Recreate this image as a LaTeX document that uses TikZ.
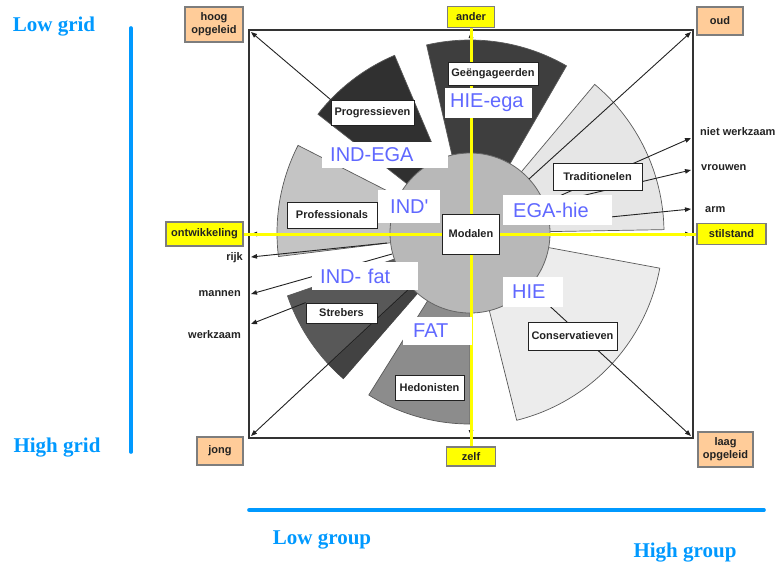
\documentclass[tikz,border=0pt]{standalone}
\usepackage{fontspec}
\setmainfont{Liberation Sans}
\newfontfamily\axisfont{Liberation Serif}
\newfontfamily\cultfont{Liberation Sans}
\usetikzlibrary{arrows.meta}

\definecolor{axisblue}{RGB}{0,153,255}
\definecolor{lblblue}{RGB}{96,104,255}
\definecolor{peach}{RGB}{255,204,153}
\definecolor{signyellow}{RGB}{255,255,0}
\definecolor{inkgray}{RGB}{34,34,34}
\definecolor{edgegray}{RGB}{125,125,125}
\definecolor{fillEng}{RGB}{62,62,62}
\definecolor{fillProg}{RGB}{48,48,48}
\definecolor{fillProf}{RGB}{196,196,196}
\definecolor{fillStreb}{RGB}{88,88,88}
\definecolor{fillStrebDark}{RGB}{66,66,66}
\definecolor{fillHed}{RGB}{140,140,140}
\definecolor{fillCons}{RGB}{236,236,236}
\definecolor{fillTrad}{RGB}{230,230,230}
\definecolor{fillMod}{RGB}{184,184,184}

\pgfdeclarelayer{sectors}
\pgfdeclarelayer{links}
\pgfsetlayers{sectors,links,main}

\tikzset{
  tag/.style={draw=inkgray, line width=0.8pt, fill=white, text=inkgray,
    font=\bfseries\fontsize{11}{12}\selectfont, inner sep=0pt},
  pole/.style={draw=edgegray, line width=1.3pt, text=inkgray,
    font=\bfseries\fontsize{11}{13}\selectfont, inner sep=0pt, align=center},
  peachpole/.style={pole, fill=peach},
  yellowpole/.style={pole, fill=signyellow},
  sidetext/.style={text=inkgray, font=\bfseries\fontsize{11}{12}\selectfont, inner sep=0pt},
  culture/.style={fill=white, text=lblblue, font=\cultfont\fontsize{20}{22}\selectfont,
    inner ysep=0pt, align=left, anchor=west},
  ptr/.style={draw=inkgray, line width=0.9pt, -{Triangle[length=6pt,width=4.5pt]}},
  yaxis/.style={draw=signyellow, line width=3pt},
  sector/.style={draw=black!65, line width=0.7pt},
  axisbar/.style={draw=axisblue, line width=3.6pt, line cap=round},
  axislabel/.style={text=axisblue, font=\axisfont\bfseries\fontsize{21}{23}\selectfont, inner sep=0pt},
}

\begin{document}
\begin{tikzpicture}[x=1pt,y=-1pt]
\useasboundingbox (0,0) rectangle (778,566);
\coordinate (C) at (470,233);

% frame, sectors and the central disc
\begin{pgfonlayer}{sectors}
  \draw[line width=1.2pt, draw=black!80] (249,30) rectangle (693,438);
  \filldraw[sector, fill=fillEng]   (C) -- ++(60:193pt)  arc[start angle=60,  end angle=103, radius=193pt] -- cycle;
  \filldraw[sector, fill=fillProg]  (C) -- ++(113:193pt) arc[start angle=113, end angle=142, radius=193pt] -- cycle;
  \filldraw[sector, fill=fillProf]  (C) -- ++(153:193pt) arc[start angle=153, end angle=187, radius=193pt] -- cycle;
  \filldraw[sector, fill=fillStreb] (C) -- ++(199:193pt) arc[start angle=199, end angle=229, radius=193pt] -- cycle;
  \fill[fillStrebDark] (C) -- ++(223:193pt) arc[start angle=223, end angle=229, radius=193pt] -- cycle;
  \filldraw[sector, fill=fillHed]   (C) -- ++(238:191pt) arc[start angle=238, end angle=270, radius=191pt] -- cycle;
  \filldraw[sector, fill=fillCons]  (C) -- ++(-76:193pt) arc[start angle=-76, end angle=-10.5, radius=193pt] -- cycle;
  \filldraw[sector, fill=fillTrad]  (C) -- ++(1:194pt)   arc[start angle=1,   end angle=50,  radius=194pt] -- cycle;
  \filldraw[draw=black!60, line width=0.8pt, fill=fillMod] (C) circle[radius=80pt];
\end{pgfonlayer}

% segment labels
\node[tag, minimum width=57pt, minimum height=40pt] (mod)   at (471,234)     {Modalen};
\node[tag, minimum width=90pt, minimum height=23pt] (eng)   at (493,73.5)    {Geëngageerden};
\node[tag, minimum width=83pt, minimum height=25pt] (prog)  at (372.5,112.5) {Progressieven};
\node[tag, minimum width=89pt, minimum height=27pt] (trad)  at (597.5,176.5) {Traditionelen};
\node[tag, minimum width=90pt, minimum height=26pt] (prof)  at (332,215)     {Professionals};
\node[tag, minimum width=71pt, minimum height=20pt] (streb) at (341.5,313)   {Strebers};
\node[tag, minimum width=69pt, minimum height=25pt] (hed)   at (429.5,387.5) {Hedonisten};
\node[tag, minimum width=89pt, minimum height=28pt] (cons)  at (572.5,336)   {Conservatieven};

% cultural-theory labels
\node[culture, inner xsep=5pt,  text width=77pt, minimum height=30pt] (hieega) at (445,103)   {HIE-ega};
\node[culture, inner xsep=8pt,  text width=110pt, minimum height=26pt] (indega) at (322,155)  {IND-EGA};
\node[culture, inner xsep=12pt, text width=38pt, minimum height=33pt] (indq)   at (378,206.5) {IND'};
\node[culture, inner xsep=8pt,  text width=90pt, minimum height=28pt] (indfat) at (312,276)   {IND- fat};
\node[culture, inner xsep=10pt, text width=89pt, minimum height=30pt] (egahie) at (503,210)   {EGA-hie};
\node[culture, inner xsep=9pt,  text width=42pt, minimum height=30pt] (hie)    at (503,292)   {HIE};
\node[culture, inner xsep=10pt, text width=49pt, minimum height=28pt] (fat)    at (403,331)   {FAT};

% poles of the two axes and the corners
\node[peachpole, minimum width=58pt, minimum height=35pt] (hoog)  at (214,24.5)   {hoog\\opgeleid};
\node[peachpole, minimum width=46pt, minimum height=28pt] (oud)   at (720,21)     {oud};
\node[peachpole, minimum width=46pt, minimum height=28pt] (jong)  at (220,451)    {jong};
\node[peachpole, minimum width=55pt, minimum height=35pt] (laag)  at (725.5,449.5){laag\\opgeleid};
\node[yellowpole, minimum width=47pt, minimum height=21pt] (ander) at (471,17)    {ander};
\node[yellowpole, minimum width=49pt, minimum height=19pt] (zelf)  at (471,456.5) {zelf};
\node[yellowpole, minimum width=77pt, minimum height=24pt] (ontw)  at (204.5,234) {ontwikkeling};
\node[yellowpole, minimum width=69pt, minimum height=21pt] (stil)  at (731.5,234) {stilstand};

% side descriptors
\node[sidetext, anchor=west] (nw)     at (700,132) {niet werkzaam};
\node[sidetext, anchor=west] (vr)     at (701,168) {vrouwen};
\node[sidetext, anchor=west] (arm)    at (705,210) {arm};
\node[sidetext, anchor=east] (rijk)   at (243,258) {rijk};
\node[sidetext, anchor=east] (mannen) at (241,294) {mannen};
\node[sidetext, anchor=east] (werk)   at (241,335) {werkzaam};

% arrow ends on the frame
\coordinate (tTL) at (251,32);   \coordinate (tTR) at (691,32);
\coordinate (tBL) at (251,436);  \coordinate (tBR) at (691,436);
\coordinate (tUp) at (471,32);   \coordinate (tDown) at (471,436);
\coordinate (tLeft) at (251,234);\coordinate (tRight) at (691,234);
\coordinate (tNW) at (691,138);  \coordinate (tVr) at (691,170);  \coordinate (tArm) at (691,209);
\coordinate (tRijk) at (251,257);\coordinate (tMan) at (251,294);
\coordinate (tWerk) at (251,324);
% arrow starts inside the chart
\coordinate (sTR) at (529,179);  \coordinate (sBR) at (529,287);  \coordinate (sBL) at (411,287);
\coordinate (sNW) at (548,201);  \coordinate (sVr) at (560,201);  \coordinate (sArm) at (590,219);
\coordinate (sRijk) at (387,243);\coordinate (sMan) at (392,254);

\begin{pgfonlayer}{links}
  \draw[ptr] (prog.north west) -- (tTL);
  \draw[ptr] (sTR) -- (tTR);
  \draw[ptr] (sBR) -- (tBR);
  \draw[ptr] (sBL) -- (tBL);
  \draw[ptr] (sNW) -- (tNW);
  \draw[ptr] (sVr) -- (tVr);
  \draw[ptr] (sArm) -- (tArm);
  \draw[ptr] (sRijk) -- (tRijk);
  \draw[ptr] (sMan) -- (tMan);
  \draw[ptr] (streb.north west) -- (tWerk);
  \draw[ptr] (mod) -- (tUp);
  \draw[ptr] (mod) -- (tDown);
  \draw[ptr] (mod) -- (tLeft);
  \draw[ptr] (mod) -- (tRight);
  \draw[yaxis] (ander) -- (mod);
  \draw[yaxis] (mod) -- (zelf);
  \draw[yaxis] (ontw) -- (mod);
  \draw[yaxis] (mod) -- (stil);
\end{pgfonlayer}

% grid / group scales
\coordinate (gTop) at (131,28);  \coordinate (gBot) at (131,452);
\coordinate (hL) at (249,510);   \coordinate (hR) at (764,510);
\draw[axisbar] (gTop) -- (gBot);
\draw[axisbar] (hL) -- (hR);
\node[axislabel] (lowgrid)   at (54,27)  {Low grid};
\node[axislabel] (highgrid)  at (57,448) {High grid};
\node[axislabel] (lowgroup)  at (322,540) {Low group};
\node[axislabel] (highgroup) at (685,553) {High group};
\end{tikzpicture}
\end{document}
